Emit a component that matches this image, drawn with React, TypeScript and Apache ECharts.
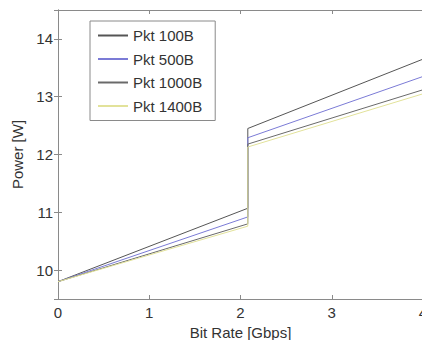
import React, { useEffect, useRef } from "react";
import * as echarts from "echarts";

const bitRates = [0, 2.08, 2.08, 4];
const seriesNames = ["Pkt 100B", "Pkt 500B", "Pkt 1000B", "Pkt 1400B"];
const pkt100 = [9.8, 11.07, 12.45, 13.65];
const pkt500 = [9.8, 10.92, 12.29, 13.35];
const pkt1000 = [9.8, 10.8, 12.18, 13.12];
const pkt1400 = [9.8, 10.76, 12.13, 13.05];
const seriesValues = [pkt100, pkt500, pkt1000, pkt1400];
const seriesColors = ["#555555", "#7b7bd6", "#6a6a6a", "#e2e29a"];

const FONT = "'Liberation Sans', Arial, Helvetica, sans-serif";

export default function App() {
  const ref = useRef<HTMLDivElement>(null);
  useEffect(() => {
    if (!ref.current) return;
    const chart = echarts.init(ref.current, undefined, { renderer: "svg" });
    const axisLine = { show: true, lineStyle: { color: "#8a8a8a", width: 1 } };
    const axisTick = { show: true, inside: true, length: 4, lineStyle: { color: "#8a8a8a" } };
    const label = { color: "#333", fontSize: 15, fontFamily: FONT };
    chart.setOption({
      animation: false,
      backgroundColor: "#ffffff",
      grid: {
        left: 58,
        top: 10,
        right: -1,
        bottom: 41,
        containLabel: false,
        outerBoundsMode: "none",
      },
      legend: {
        data: seriesNames,
        orient: "vertical",
        left: 90,
        top: 21,
        padding: [7, 13, 7, 7],
        itemWidth: 30,
        itemHeight: 14,
        itemGap: 8.5,
        backgroundColor: "#ffffff",
        borderColor: "#8a8a8a",
        borderWidth: 1,
        itemStyle: { opacity: 0, borderWidth: 0 },
        textStyle: { color: "#333", fontSize: 15, fontFamily: FONT },
      },
      xAxis: [
        {
          type: "value",
          min: 0,
          max: 4,
          interval: 1,
          name: "Bit Rate [Gbps]",
          nameLocation: "middle",
          nameGap: 22,
          nameTextStyle: { color: "#333", fontSize: 15, fontFamily: FONT },
          axisLine,
          axisTick,
          axisLabel: { ...label, margin: 6 },
          splitLine: { show: false },
        },
        {
          type: "value",
          position: "top",
          min: 0,
          max: 4,
          interval: 1,
          axisLine,
          axisTick,
          axisLabel: { show: false },
          splitLine: { show: false },
        },
      ],
      yAxis: [
        {
          type: "value",
          min: 9.5,
          max: 14.5,
          name: "Power [W]",
          nameLocation: "middle",
          nameGap: 28,
          nameTextStyle: { color: "#333", fontSize: 15, fontFamily: FONT },
          axisLine,
          axisTick,
          axisLabel: {
            ...label,
            margin: 5,
            formatter: (v: number) => (Number.isInteger(v) ? String(v) : ""),
          },
          splitLine: { show: false },
        },
        {
          type: "value",
          position: "right",
          min: 9.5,
          max: 14.5,
          axisLine,
          axisTick,
          axisLabel: { show: false },
          splitLine: { show: false },
        },
      ],
      series: seriesNames.map((name, i) => ({
        name,
        type: "line",
        xAxisIndex: 0,
        yAxisIndex: 0,
        symbol: "none",
        showSymbol: false,
        color: seriesColors[i],
        lineStyle: { color: seriesColors[i], width: 1 },
        data: bitRates.map((x, j) => [x, seriesValues[i][j]]),
      })),
    });
    return () => chart.dispose();
  }, []);
  return (
    <div
      ref={ref}
      style={{ position: "fixed", left: 0, top: 0, width: 422, height: 340 }}
    />
  );
}
